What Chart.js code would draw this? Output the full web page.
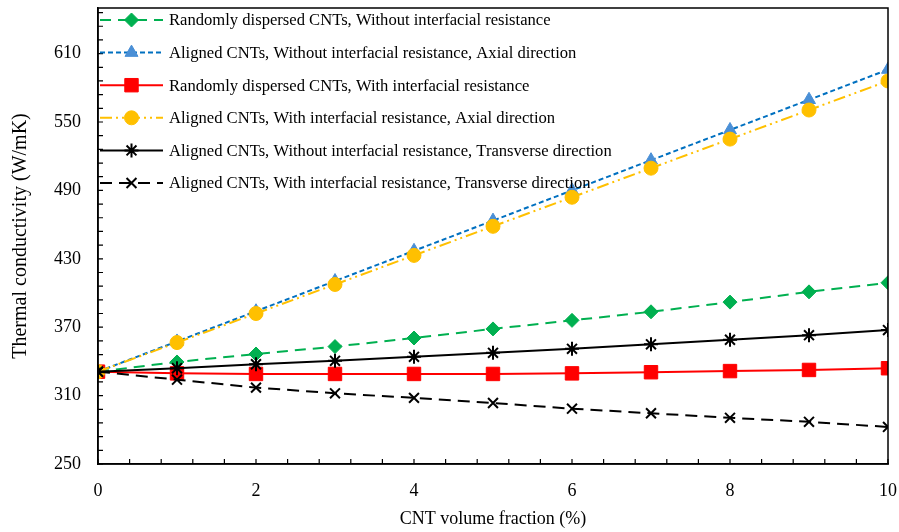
<!DOCTYPE html>
<html>
<head>
<meta charset="utf-8">
<script src="https://cdn.jsdelivr.net/npm/chart.js@4.4.0/dist/chart.umd.min.js"></script>
<style>
  html, body { margin: 0; padding: 0; background: #fff; }
  #wrap { width: 899px; height: 532px; }
</style>
</head>
<body>
<div id="wrap"><canvas id="chart" width="899" height="532"></canvas></div>
<script>
const volumeFraction = [0, 1, 2, 3, 4, 5, 6, 7, 8, 9, 10];
const randomNoRes = [331, 339.5, 346.5, 353, 360.5, 368.5, 376, 383.5, 392, 401, 409];
const alignedAxialNoRes = [331, 357.5, 384, 410.5, 437, 463.5, 490, 516.5, 543, 569.5, 596];
const randomWithRes = [331, 329.5, 329, 329, 329, 329, 329.5, 330.5, 331.5, 332.5, 334];
const alignedAxialWithRes = [331, 356.5, 382, 407.5, 433, 458.5, 484, 509.5, 535, 560.5, 586];
const alignedTransNoRes = [331, 334, 337.5, 340.5, 344, 347.5, 351, 355, 359, 363, 367.5];
const alignedTransWithRes = [331, 324, 317, 312, 308, 303.5, 298.5, 294.5, 290.5, 287, 282.5];

const seriesNames = [
  "Randomly dispersed CNTs, Without interfacial resistance",
  "Aligned CNTs, Without interfacial resistance, Axial direction",
  "Randomly dispersed CNTs, With interfacial resistance",
  "Aligned CNTs, With interfacial resistance, Axial direction",
  "Aligned CNTs, Without interfacial resistance, Transverse direction",
  "Aligned CNTs, With interfacial resistance, Transverse direction"
];
const xTickLabels = [0, 2, 4, 6, 8, 10];
const yTickLabels = [250, 310, 370, 430, 490, 550, 610];

const serif = "'Liberation Serif', 'DejaVu Serif', serif";

function series(i, data, color, dash, style, radius, fill) {
  return {
    label: seriesNames[i],
    data: volumeFraction.map((x, k) => ({ x: x, y: data[k] })),
    borderColor: color,
    borderWidth: 2,
    borderDash: dash,
    pointStyle: style,
    pointRadius: radius,
    pointBackgroundColor: fill || color,
    pointBorderColor: fill || color,
    pointBorderWidth: style === "star" || style === "crossRot" ? 2 : 1,
    order: 6 - i,
    tension: 0
  };
}

const datasets = [
  series(0, randomNoRes, "#00B050", [11, 7], "rectRot", 7),
  series(1, alignedAxialNoRes, "#0070C0", [5, 3], "triangle", 7.5, "#4A8FD6"),
  series(2, randomWithRes, "#FF0000", [], "rect", 9.5),
  series(3, alignedAxialWithRes, "#FFC000", [12, 4, 2, 4, 2, 4], "circle", 7),
  series(4, alignedTransNoRes, "#000000", [], "star", 7),
  series(5, alignedTransWithRes, "#000000", [12, 7], "crossRot", 7)
];

// frame, inward ticks and the legend are drawn by hand
const decorations = {
  id: "decorations",
  afterDraw(chart) {
    const ctx = chart.ctx;
    const area = chart.chartArea;
    const xs = chart.scales.x;
    const ys = chart.scales.y;
    ctx.save();
    ctx.strokeStyle = "#000";
    ctx.lineWidth = 1.5;
    ctx.strokeRect(area.left, area.top, area.right - area.left, area.bottom - area.top);

    ctx.lineWidth = 1.2;
    ctx.beginPath();
    for (let k = 0; k <= 25; k++) {
      const px = xs.getPixelForValue(k * 0.4);
      ctx.moveTo(px, area.bottom);
      ctx.lineTo(px, area.bottom - 5);
    }
    for (let v = 250; v <= 650; v += 12) {
      const py = ys.getPixelForValue(v);
      ctx.moveTo(area.left, py);
      ctx.lineTo(area.left + 5, py);
    }
    ctx.stroke();

    // legend
    ctx.font = "16.6px " + serif;
    ctx.textBaseline = "middle";
    chart.data.datasets.forEach((ds, i) => {
      const y = 20 + i * 32.6;
      const x1 = area.left + 2;
      const x2 = area.left + 65;
      ctx.setLineDash(ds.borderDash);
      ctx.strokeStyle = ds.borderColor;
      ctx.lineWidth = ds.borderWidth;
      ctx.beginPath();
      ctx.moveTo(x1, y);
      ctx.lineTo(x2, y);
      ctx.stroke();
      ctx.setLineDash([]);
      ctx.fillStyle = ds.pointBackgroundColor;
      ctx.strokeStyle = ds.pointBorderColor;
      ctx.lineWidth = ds.pointBorderWidth;
      Chart.helpers.drawPoint(ctx, {
        pointStyle: ds.pointStyle,
        radius: ds.pointRadius,
        rotation: 0,
        borderWidth: ds.pointBorderWidth
      }, (x1 + x2) / 2, y);
      ctx.fillStyle = "#000";
      ctx.fillText(ds.label, area.left + 71, y + 1);
    });
    ctx.restore();
  }
};

new Chart(document.getElementById("chart"), {
  type: "line",
  data: { datasets },
  options: {
    responsive: false,
    animation: false,
    layout: { autoPadding: false, padding: { top: 8, right: 11, left: 0, bottom: 0 } },
    plugins: { legend: { display: false }, tooltip: { enabled: false } },
    scales: {
      x: {
        type: "linear",
        min: 0,
        max: 10,
        afterBuildTicks: (s) => { s.ticks = xTickLabels.map(v => ({ value: v })); },
        afterFit: (s) => {
          s.height = 68;
          s.paddingLeft = 0;
          s.paddingRight = 0;
        },
        grid: { display: false, drawTicks: false },
        border: { display: true, color: "#000", width: 1.5 },
        ticks: { color: "#000", padding: 16, font: { family: serif, size: 18 } },
        title: {
          display: true,
          text: "CNT volume fraction (%)",
          color: "#000",
          font: { family: serif, size: 18 },
          padding: { top: 0, bottom: 2 }
        }
      },
      y: {
        type: "linear",
        min: 250,
        max: 650,
        afterBuildTicks: (s) => { s.ticks = yTickLabels.map(v => ({ value: v })); },
        afterFit: (s) => {
          s.width = 98;
          s.paddingTop = 0;
          s.paddingBottom = 0;
        },
        grid: { display: false, drawTicks: false },
        border: { display: true, color: "#000", width: 1.5 },
        ticks: { color: "#000", padding: 17, font: { family: serif, size: 18 } },
        title: {
          display: true,
          text: "Thermal conductivity (W/mK)",
          color: "#000",
          font: { family: serif, size: 20 },
          padding: { top: 9, bottom: 0 }
        }
      }
    }
  },
  plugins: [decorations]
});
</script>
</body>
</html>
